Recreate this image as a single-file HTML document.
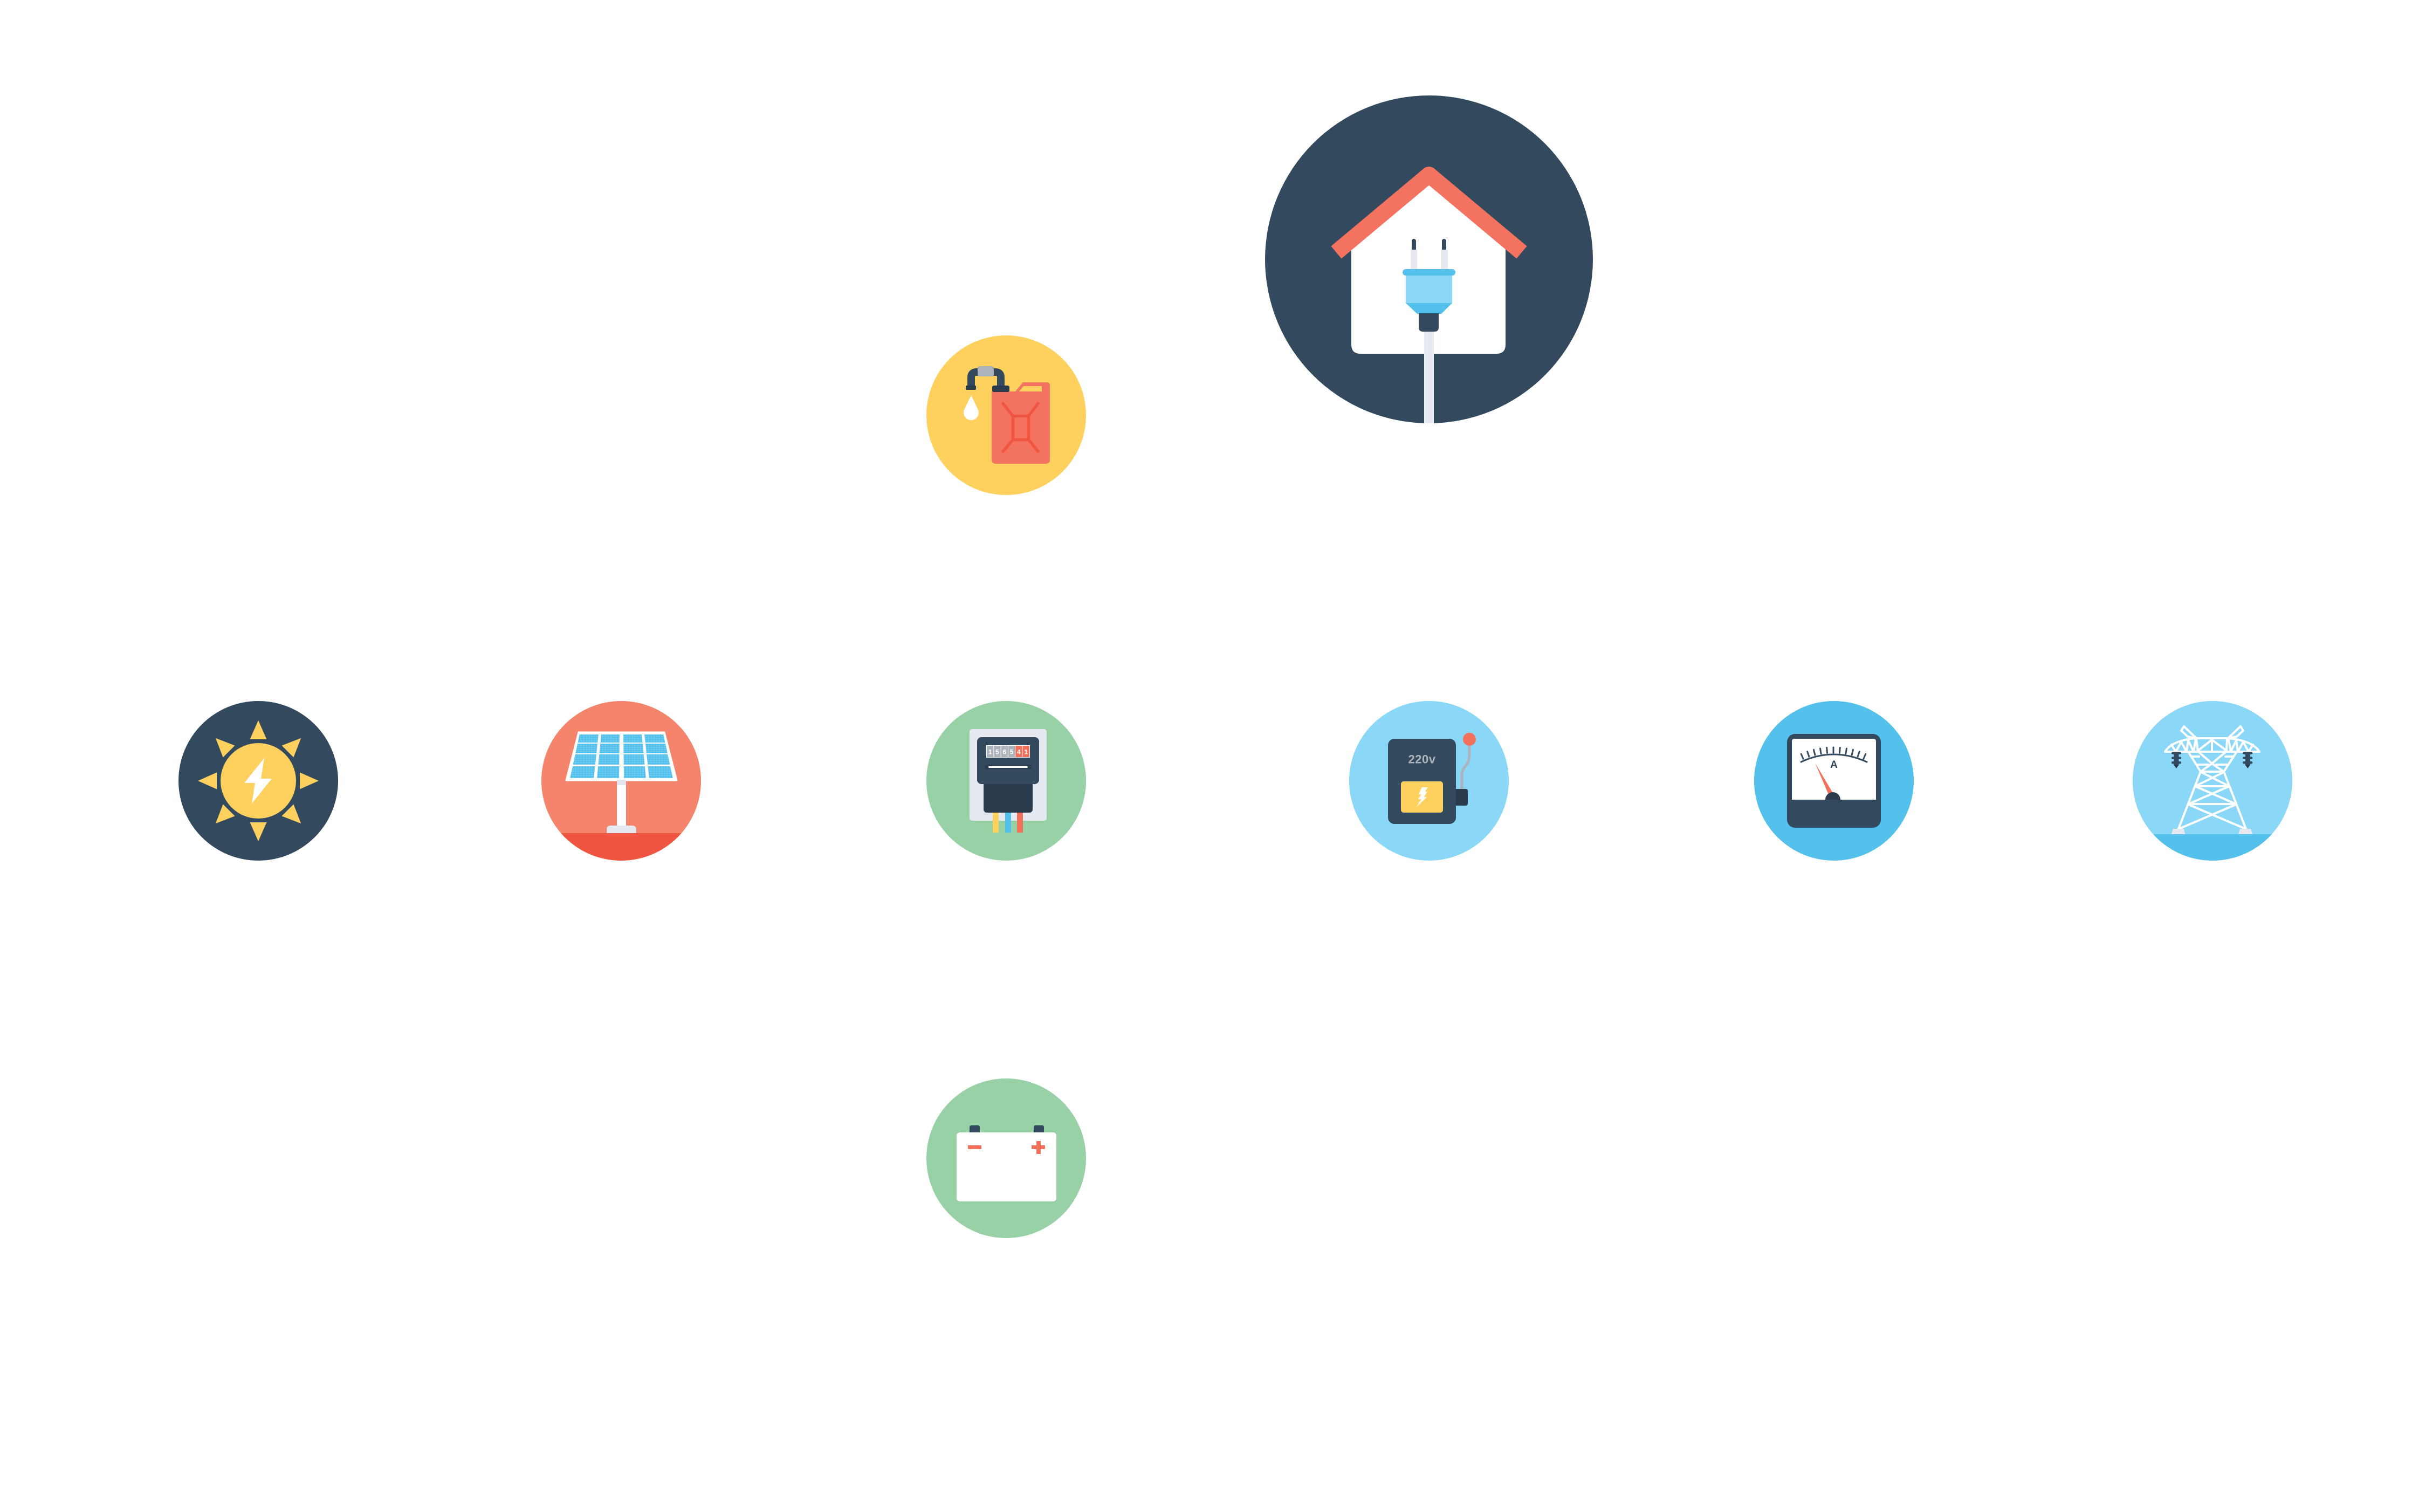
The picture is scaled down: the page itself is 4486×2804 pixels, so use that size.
<!DOCTYPE html>
<html><head><meta charset="utf-8"><style>
html,body{margin:0;padding:0;background:#fff;}
svg{display:block;}
text{font-family:"Liberation Sans",Arial,sans-serif;font-weight:bold;}
</style></head><body>
<svg width="4486" height="2804" viewBox="0 0 4486 2804" xmlns="http://www.w3.org/2000/svg">
<defs>
<clipPath id="cSolar"><circle cx="1152" cy="1448" r="148"/></clipPath>
<clipPath id="cTower"><circle cx="4103" cy="1448" r="148"/></clipPath>
<pattern id="cellp" width="5" height="4" patternUnits="userSpaceOnUse">
<rect width="5" height="4" fill="#54c1ec"/><rect x="1" y="1" width="3.2" height="2.2" fill="#6fcdf3"/>
</pattern>
</defs>
<rect width="4486" height="2804" fill="#fff"/>

<!-- HOUSE -->
<circle cx="2650" cy="481" r="304" fill="#334a5e"/>
<path d="M2506,462 L2650,340 L2792,462 L2792,639 Q2792,656 2775,656 L2523,656 Q2506,656 2506,639 Z" fill="#fff"/>
<polyline points="2478,468 2650,324 2822,468" fill="none" stroke="#f37360" stroke-width="30" stroke-linejoin="round"/>
<rect x="2618" y="443" width="8" height="24" rx="4" fill="#334a5e"/>
<rect x="2616" y="463" width="12" height="37" fill="#e6e9ef"/>
<rect x="2674" y="443" width="8" height="24" rx="4" fill="#334a5e"/>
<rect x="2672" y="463" width="13" height="37" fill="#e6e9ef"/>
<rect x="2607" y="510" width="86" height="53" fill="#8ad7f8"/>
<rect x="2601" y="499" width="98" height="12" rx="6" fill="#54c1ec"/>
<polygon points="2607,562 2693,562 2673,582 2628,582" fill="#54c1ec"/>
<rect x="2641" y="610" width="18" height="175" fill="#e6e9ef"/>
<path d="M2631,581 H2668 V607 Q2668,615 2660,615 H2639 Q2631,615 2631,607 Z" fill="#334a5e"/>

<!-- FUEL -->
<circle cx="1866" cy="770" r="148" fill="#fed05e"/>
<path d="M1839,726 L1883,726 L1897,709 L1941,709 Q1947,709 1947,715 L1947,852 Q1947,860 1939,860 L1847,860 Q1839,860 1839,852 Z" fill="#f37360"/>
<polygon points="1890,726 1898,716 1932,716 1932,726" fill="#fed05e"/>
<g stroke="#f05542" stroke-width="5.5" stroke-linecap="round" fill="none">
<rect x="1878.5" y="771.5" width="29" height="44"/>
<line x1="1860" y1="748" x2="1878" y2="771"/>
<line x1="1925" y1="748" x2="1908" y2="771"/>
<line x1="1860" y1="837" x2="1878" y2="816"/>
<line x1="1925" y1="837" x2="1908" y2="816"/>
</g>
<path d="M1801,716 V700 Q1801,690 1811,690 H1846 Q1856,690 1856,700 V716" fill="none" stroke="#334a5e" stroke-width="14"/>
<rect x="1813" y="679" width="30" height="19" rx="3" fill="#acb3ba"/>
<rect x="1791" y="715" width="19" height="8" rx="2" fill="#2b3b4e"/>
<rect x="1840" y="715" width="32" height="12" rx="3" fill="#2b3b4e"/>
<path d="M1801,733 L1788,760 A14,14 0 1 0 1814,760 Z" fill="#fff"/>

<!-- SUN -->
<circle cx="479" cy="1448" r="148" fill="#334a5e"/>
<g fill="#fed05e">
<polygon points="479,1336 463.5,1371 494.5,1371"/>
<polygon points="479,1336 463.5,1371 494.5,1371" transform="rotate(45 479 1448)"/>
<polygon points="479,1336 463.5,1371 494.5,1371" transform="rotate(90 479 1448)"/>
<polygon points="479,1336 463.5,1371 494.5,1371" transform="rotate(135 479 1448)"/>
<polygon points="479,1336 463.5,1371 494.5,1371" transform="rotate(180 479 1448)"/>
<polygon points="479,1336 463.5,1371 494.5,1371" transform="rotate(225 479 1448)"/>
<polygon points="479,1336 463.5,1371 494.5,1371" transform="rotate(270 479 1448)"/>
<polygon points="479,1336 463.5,1371 494.5,1371" transform="rotate(315 479 1448)"/>
<circle cx="479" cy="1448" r="70"/>
</g>
<polygon points="490,1406 453,1452 473,1452 467,1490 504,1444 484,1444" fill="#fff"/>

<!-- SOLAR -->
<circle cx="1152" cy="1448" r="148" fill="#f4846c"/>
<rect x="1000" y="1545" width="310" height="60" fill="#f05542" clip-path="url(#cSolar)"/>
<polygon points="1073,1358 1232,1358 1255,1447 1050,1447" fill="#fff" stroke="#fff" stroke-width="3" stroke-linejoin="round"/>
<g fill="url(#cellp)">
<polygon points="1074.8,1362 1109.9,1362 1108.3,1377 1071.5,1377"/>
<polygon points="1114.9,1362 1149,1362 1148.8,1377 1113.5,1377"/>
<polygon points="1156,1362 1190.1,1362 1191.5,1377 1156.2,1377"/>
<polygon points="1195.1,1362 1230.2,1362 1233.5,1377 1196.7,1377"/>
<polygon points="1071.1,1379 1108,1379 1106.1,1397 1067.2,1397"/>
<polygon points="1113.3,1379 1148.8,1379 1148.6,1397 1111.5,1397"/>
<polygon points="1156.2,1379 1191.7,1379 1193.5,1397 1156.4,1397"/>
<polygon points="1197,1379 1233.9,1379 1237.8,1397 1198.9,1397"/>
<polygon points="1066.8,1399 1105.9,1399 1103.8,1418 1062.6,1418"/>
<polygon points="1111.3,1399 1148.5,1399 1148.3,1418 1109.5,1418"/>
<polygon points="1156.5,1399 1193.7,1399 1195.5,1418 1156.7,1418"/>
<polygon points="1199.1,1399 1238.2,1399 1242.4,1418 1201.2,1418"/>
<polygon points="1062,1421 1103.5,1421 1101.1,1443 1057.2,1443"/>
<polygon points="1109.2,1421 1148.3,1421 1148,1443 1107.1,1443"/>
<polygon points="1156.7,1421 1195.8,1421 1197.9,1443 1157,1443"/>
<polygon points="1201.5,1421 1243,1421 1247.8,1443 1203.9,1443"/>
</g>
<rect x="1144" y="1447" width="17" height="86" fill="#fff"/>
<rect x="1144" y="1447" width="17" height="9" fill="#e1e6ef"/>
<path d="M1125,1545 V1539 Q1125,1531 1133,1531 H1172 Q1180,1531 1180,1539 V1545 Z" fill="#e6e9ef"/>

<!-- METER -->
<circle cx="1866" cy="1448" r="148" fill="#97d1a5"/>
<rect x="1798" y="1352" width="143" height="170" rx="5" fill="#e6e9ef"/>
<rect x="1841" y="1503" width="11" height="41" fill="#fed05e"/>
<rect x="1864" y="1503" width="11" height="41" fill="#54c1ec"/>
<rect x="1886" y="1503" width="11" height="41" fill="#f3705a"/>
<rect x="1824" y="1440" width="91" height="67" rx="6" fill="#2b3b4e"/>
<rect x="1812" y="1367" width="115" height="87" rx="8" fill="#334a5e"/>
<rect x="1829" y="1382" width="81" height="23" fill="#fff"/>
<rect x="1830" y="1383" width="12.3" height="21" fill="#acb3ba"/>
<rect x="1843.3" y="1383" width="12.3" height="21" fill="#acb3ba"/>
<rect x="1856.6" y="1383" width="12.3" height="21" fill="#acb3ba"/>
<rect x="1869.9" y="1383" width="12.3" height="21" fill="#acb3ba"/>
<rect x="1883.2" y="1383" width="12.3" height="21" fill="#f3705a"/>
<rect x="1896.5" y="1383" width="12.5" height="21" fill="#f3705a"/>
<g fill="#fff" font-size="12" text-anchor="middle">
<text x="1836.2" y="1398.5">1</text>
<text x="1849.5" y="1398.5">5</text>
<text x="1862.8" y="1398.5">6</text>
<text x="1876.1" y="1398.5">5</text>
<text x="1889.4" y="1398.5">4</text>
<text x="1902.7" y="1398.5">1</text>
</g>
<rect x="1826" y="1419" width="87" height="7" fill="#2b3b4e"/>
<rect x="1833" y="1421" width="73" height="3" rx="1.5" fill="#fff"/>

<!-- 220V -->
<circle cx="2650" cy="1448" r="148" fill="#8ad7f8"/>
<path d="M2711,1465 V1440 Q2711,1428 2718,1420 Q2725,1412 2725,1400 V1380" fill="none" stroke="#acb3ba" stroke-width="5"/>
<circle cx="2725" cy="1371" r="12" fill="#f3705a"/>
<rect x="2694" y="1463" width="28" height="31" rx="4" fill="#2b3b4e"/>
<rect x="2574" y="1370" width="126" height="158" rx="12" fill="#334a5e"/>
<text x="2637" y="1415.5" font-size="22" fill="#acb3ba" text-anchor="middle" letter-spacing="0.5">220v</text>
<rect x="2598" y="1449" width="78" height="58" rx="5" fill="#fed05e"/>
<polygon points="2636.7,1460 2647.7,1460 2642.7,1468.3 2646.7,1468.3 2640.7,1478.3 2646,1478.3 2626.7,1496.7 2635.7,1482.3 2630,1482.3 2635.7,1473.3 2631,1473.3" fill="#fff"/>

<!-- GAUGE -->
<circle cx="3401" cy="1448" r="148" fill="#54c1ec"/>
<rect x="3314" y="1361" width="174" height="174" rx="15" fill="#334a5e"/>
<path d="M3323,1483 V1375 Q3323,1370 3328,1370 H3474 Q3479,1370 3479,1375 V1483 Z" fill="#fff"/>
<g stroke="#334a5e" stroke-width="3" stroke-linecap="round" fill="none">
<path d="M3340,1413 Q3400,1385 3462,1413"/>
<line x1="3344.1" y1="1407.4" x2="3340.2" y2="1398.2"/>
<line x1="3354.9" y1="1403.3" x2="3351.7" y2="1393.8"/>
<line x1="3365.9" y1="1400.1" x2="3363.5" y2="1390.4"/>
<line x1="3377.1" y1="1397.8" x2="3375.5" y2="1388"/>
<line x1="3388.5" y1="1396.5" x2="3387.7" y2="1386.5"/>
<line x1="3400" y1="1396" x2="3400" y2="1386"/>
<line x1="3411.5" y1="1396.5" x2="3412.3" y2="1386.5"/>
<line x1="3422.9" y1="1397.8" x2="3424.5" y2="1388"/>
<line x1="3434.1" y1="1400.1" x2="3436.5" y2="1390.4"/>
<line x1="3445.1" y1="1403.3" x2="3448.3" y2="1393.8"/>
<line x1="3455.9" y1="1407.4" x2="3459.8" y2="1398.2"/>
</g>
<text x="3401" y="1424" font-size="19" fill="#334a5e" text-anchor="middle">A</text>
<polygon points="3366,1415 3401,1474 3393,1478" fill="#f3705a"/>
<path d="M3385,1483 A14,14 0 0 1 3413,1483 Z" fill="#2b3b4e"/>

<!-- TOWER -->
<circle cx="4103" cy="1448" r="148" fill="#8ad7f8"/>
<rect x="3950" y="1547" width="310" height="60" fill="#54c1ec" clip-path="url(#cTower)"/>
<g stroke="#fff" stroke-width="4" stroke-linecap="round" stroke-linejoin="round" fill="none">
<line x1="4040" y1="1537" x2="4081" y2="1431"/>
<line x1="4165" y1="1537" x2="4124" y2="1431"/>
<line x1="4081" y1="1431" x2="4124" y2="1431"/>
<line x1="4073" y1="1458" x2="4132" y2="1458"/>
<line x1="4060" y1="1491" x2="4145" y2="1491"/>
<line x1="4082" y1="1432" x2="4132" y2="1457"/>
<line x1="4124" y1="1432" x2="4073" y2="1457"/>
<line x1="4073" y1="1459" x2="4144" y2="1490"/>
<line x1="4132" y1="1459" x2="4061" y2="1490"/>
<line x1="4061" y1="1493" x2="4164" y2="1537"/>
<line x1="4144" y1="1493" x2="4041" y2="1537"/>
<line x1="4081" y1="1431" x2="4058" y2="1394"/>
<line x1="4124" y1="1431" x2="4148" y2="1394"/>
<polyline points="4077,1394 4102,1416 4128,1394"/>
<polyline points="4081,1431 4102,1416 4124,1431"/>
<line x1="4064" y1="1403" x2="4078" y2="1403"/>
<line x1="4127" y1="1403" x2="4141" y2="1403"/>
<line x1="4074" y1="1418" x2="4095" y2="1418"/>
<line x1="4110" y1="1418" x2="4131" y2="1418"/>
<line x1="4015" y1="1394" x2="4190" y2="1394"/>
<line x1="4073" y1="1369" x2="4130" y2="1369"/>
<path d="M4015,1394 Q4028,1373 4073,1369"/>
<path d="M4130,1369 Q4177,1373 4190,1394"/>
<line x1="4073" y1="1369" x2="4076" y2="1394"/>
<line x1="4130" y1="1369" x2="4129" y2="1394"/>
<polyline points="4076,1392 4102,1372 4129,1392"/>
<line x1="4102" y1="1372" x2="4102" y2="1394"/>
<polyline points="4027,1381 4035,1394 4045,1376 4055,1394 4058,1373 4068,1394 4072,1371"/>
<polyline points="4178,1381 4170,1394 4160,1376 4150,1394 4147,1373 4137,1394 4133,1371"/>
<polygon points="4045,1355 4050,1347 4073,1369 4057,1366"/>
<polygon points="4160,1355 4155,1347 4132,1369 4148,1366"/>
</g>
<polygon points="4027,1547 4030,1537 4050,1537 4052,1547" fill="#e6e9ef"/>
<polygon points="4151,1547 4154,1537 4174,1537 4177,1547" fill="#e6e9ef"/>
<g fill="#334a5e">
<rect x="4031.5" y="1395" width="9" height="24"/>
<rect x="4027" y="1394.5" width="18" height="4.5" rx="2.2"/>
<rect x="4027" y="1403.5" width="18" height="4.5" rx="2.2"/>
<rect x="4027" y="1412" width="18" height="4.5" rx="2.2"/>
<polygon points="4031,1418 4041,1418 4036,1425" fill="#2b3b4e"/>
<rect x="4163.8" y="1395" width="9" height="24"/>
<rect x="4159.3" y="1394.5" width="18" height="4.5" rx="2.2"/>
<rect x="4159.3" y="1403.5" width="18" height="4.5" rx="2.2"/>
<rect x="4159.3" y="1412" width="18" height="4.5" rx="2.2"/>
<polygon points="4163.3,1418 4173.3,1418 4168.3,1425" fill="#2b3b4e"/>
</g>

<!-- BATTERY -->
<circle cx="1866" cy="2148" r="148" fill="#97d1a5"/>
<rect x="1798" y="2087" width="19" height="16" rx="3" fill="#334a5e"/>
<rect x="1917" y="2087" width="19" height="16" rx="3" fill="#334a5e"/>
<rect x="1774" y="2100" width="185" height="128" rx="6" fill="#fff"/>
<rect x="1795" y="2124" width="25" height="7" rx="1" fill="#f3705a"/>
<rect x="1913" y="2124" width="25" height="7" rx="1" fill="#f3705a"/>
<rect x="1922" y="2116" width="8" height="24" rx="1" fill="#f3705a"/>
</svg>
</body></html>
